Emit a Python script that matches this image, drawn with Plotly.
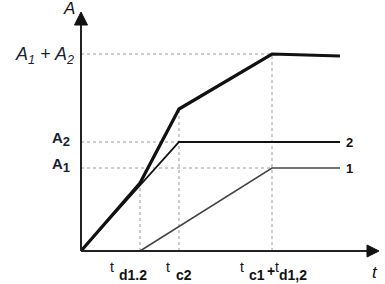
import plotly.graph_objects as go

# Key time points (arbitrary units): 0, t_d1.2, t_c2, t_c1+t_d1.2, end
t_pts = [0, 59, 98, 191, 259]
sum_vals = [0, 68, 142, 197, 195]          # A1 + A2 curve
s2_t = [0, 98, 259]
s2_vals = [0, 109, 109]                    # curve 2
s1_t = [59, 191, 259]
s1_vals = [0, 83, 83]                      # curve 1
x_tick_vals = [59, 98, 191]
x_tick_text = ["d1.2", "c2", "c1"]
A1, A2, A12 = 83, 109, 197

X_MIN, X_MAX, Y_MIN, Y_MAX = -80, 300, -20, 250

fig = go.Figure()

guide = dict(color="#9a9a9a", width=1, dash="dot")
for yv, xe in [(A12, t_pts[3]), (A2, t_pts[2]), (A1, t_pts[3])]:
    fig.add_trace(go.Scatter(x=[0, xe], y=[yv, yv], mode="lines", line=guide,
                             hoverinfo="skip", showlegend=False))
for xv, ye in [(t_pts[1], sum_vals[1]), (t_pts[2], sum_vals[2]), (t_pts[3], sum_vals[3])]:
    fig.add_trace(go.Scatter(x=[xv, xv], y=[0, ye], mode="lines", line=guide,
                             hoverinfo="skip", showlegend=False))

fig.add_trace(go.Scatter(x=s1_t, y=s1_vals, mode="lines",
                         line=dict(color="#444444", width=1.5), showlegend=False))
fig.add_trace(go.Scatter(x=s2_t, y=s2_vals, mode="lines",
                         line=dict(color="#111111", width=1.8), showlegend=False))
fig.add_trace(go.Scatter(x=t_pts, y=sum_vals, mode="lines",
                         line=dict(color="#111111", width=3.2), showlegend=False))

axis_col = "#222222"
shapes = [
    dict(type="line", x0=0, y0=0, x1=0, y1=228, line=dict(color=axis_col, width=2)),
    dict(type="line", x0=0, y0=0, x1=288, y1=0, line=dict(color=axis_col, width=2)),
    dict(type="path", path="M-6.5,226L6.5,226L0,239Z", fillcolor="#111111",
         line=dict(color="#111111", width=1)),
    dict(type="path", path="M286,6L286,-6L298,0Z", fillcolor="#111111",
         line=dict(color="#111111", width=1)),
]

font = "Liberation Sans, Arial, sans-serif"
lab_col = "#1a1f33"
ann = []
ann.append(dict(x=0, y=243, text="<i>A</i>", showarrow=False, xanchor="right",
                yanchor="middle", xshift=-4, font=dict(size=17, color="#111", family=font)))
ann.append(dict(x=0, y=A12, text="<i>A<sub>1</sub> + A<sub>2</sub></i>", showarrow=False,
                xanchor="right", yanchor="middle", xshift=-5, yshift=-1,
                font=dict(size=18, color=lab_col, family=font)))
sub_y = "<b>A<sub><span style='font-size:13px'>%s</span></sub></b>"
ann.append(dict(x=0, y=A2, text=sub_y % "2", showarrow=False, xanchor="right",
                yanchor="middle", xshift=-9, yshift=3, font=dict(size=15, color=lab_col, family=font)))
ann.append(dict(x=0, y=A1, text=sub_y % "1", showarrow=False, xanchor="right",
                yanchor="middle", xshift=-9, yshift=3, font=dict(size=15, color=lab_col, family=font)))
ann.append(dict(x=s2_t[-1], y=s2_vals[-1], text="<b>2</b>", showarrow=False, xanchor="left",
                yanchor="middle", xshift=4, font=dict(size=13, color="#111", family=font)))
ann.append(dict(x=s1_t[-1], y=s1_vals[-1], text="<b>1</b>", showarrow=False, xanchor="left",
                yanchor="middle", xshift=4, font=dict(size=13, color="#111", family=font)))
ann.append(dict(x=X_MAX - 6, y=0, text="<i>t</i>", showarrow=False, xanchor="center",
                yanchor="top", yshift=-10, font=dict(size=17, color="#111", family=font)))

lab_font = dict(size=14, color="#111", family=font)
sub_font = dict(size=14, color="#111", family=font)
ann.append(dict(x=x_tick_vals[0], y=0, text="t", showarrow=False, xanchor="right", yanchor="top",
                xshift=-24, yshift=-6, font=lab_font))
ann.append(dict(x=x_tick_vals[0], y=0, text="<b>" + x_tick_text[0] + "</b>", showarrow=False,
                xanchor="right", yanchor="top", xshift=9, yshift=-14, font=sub_font))
ann.append(dict(x=x_tick_vals[1], y=0, text="t", showarrow=False, xanchor="right", yanchor="top",
                xshift=-7, yshift=-6, font=lab_font))
ann.append(dict(x=x_tick_vals[1], y=0, text="<b>" + x_tick_text[1] + "</b>", showarrow=False,
                xanchor="left", yanchor="top", xshift=-5, yshift=-14, font=sub_font))
ann.append(dict(x=x_tick_vals[2], y=0, text="t", showarrow=False, xanchor="right", yanchor="top",
                xshift=-26, yshift=-6, font=lab_font))
ann.append(dict(x=x_tick_vals[2], y=0, text="<b>" + x_tick_text[2] + "</b>", showarrow=False,
                xanchor="left", yanchor="top", xshift=-25, yshift=-14, font=sub_font))
ann.append(dict(x=x_tick_vals[2], y=0, text="<b>+</b>", showarrow=False,
                xanchor="left", yanchor="top", xshift=-7, yshift=-10, font=lab_font))
ann.append(dict(x=x_tick_vals[2], y=0, text="t", showarrow=False, xanchor="left", yanchor="top",
                xshift=1, yshift=-6, font=lab_font))
ann.append(dict(x=x_tick_vals[2], y=0, text="<b>d1,2</b>", showarrow=False,
                xanchor="left", yanchor="top", xshift=5, yshift=-14, font=sub_font))

fig.update_layout(
    width=385, height=284,
    margin=dict(l=1, r=4, t=1, b=13),
    paper_bgcolor="white", plot_bgcolor="white",
    xaxis=dict(range=[X_MIN, X_MAX], visible=False, fixedrange=True),
    yaxis=dict(range=[Y_MIN, Y_MAX], visible=False, fixedrange=True),
    shapes=shapes, annotations=ann, showlegend=False,
)
fig.write_html("out.html")
